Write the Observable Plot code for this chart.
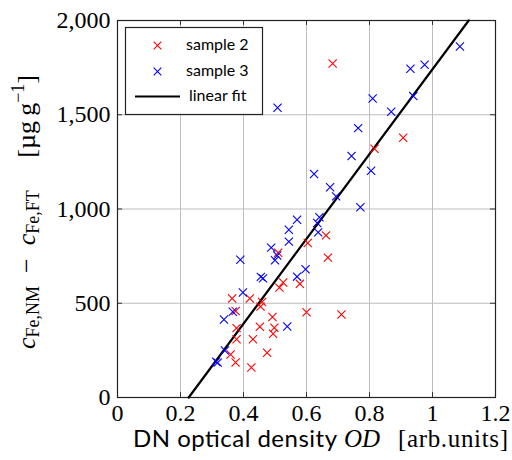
<!DOCTYPE html>
<html><head><meta charset="utf-8">
<script src="https://cdn.jsdelivr.net/npm/d3@7"></script>
<script src="https://cdn.jsdelivr.net/npm/@observablehq/plot@0.6"></script>
<style>body{margin:0;background:#fff} svg{display:block}</style>
</head><body><div id="chart"></div>
<script>
// sample 2 (red)
const sample2X = [0.683,0.907,0.816,0.662,0.604,0.668,0.510,0.526,0.579,0.514,0.364,0.420,0.459,0.454,0.375,0.600,0.711,0.492,0.452,0.498,0.494,0.378,0.378,0.430,0.359,0.475,0.375,0.425];
const sample2Y = [1772,1378,1320,860,820,742,768,610,603,583,525,525,507,482,459,452,440,427,375,370,338,368,309,309,228,237,186,159];
// sample 3 (blue)
const sample3X = [1.087,0.975,0.930,0.810,0.939,0.869,0.764,0.508,0.743,0.805,0.624,0.675,0.694,0.771,0.570,0.641,0.634,0.637,0.544,0.544,0.597,0.570,0.488,0.507,0.500,0.390,0.455,0.462,0.398,0.366,0.338,0.539,0.341,0.313,0.318];
const sample3Y = [1862,1765,1744,1586,1599,1516,1429,1537,1281,1203,1186,1115,1067,1009,943,956,926,876,890,827,680,641,795,753,728,731,640,632,557,455,414,377,249,190,185];
// linear fit end points
const fitX = [0.226, 1.115];
const fitY = [0, 2000];
// ticks
const xTicks = [0, 0.2, 0.4, 0.6, 0.8, 1.0, 1.2];
const xTickLabels = ["0", "0.2", "0.4", "0.6", "0.8", "1", "1.2"];
const yTicks = [0, 500, 1000, 1500, 2000];
const yTickLabels = ["0", "500", "1,000", "1,500", "2,000"];
const seriesNames = ["sample 2", "sample 3", "linear fit"];
const seriesColors = ["#ff0000", "#0000ff", "#000000"];

const s2 = sample2X.map((x, i) => ({x, y: sample2Y[i]}));
const s3 = sample3X.map((x, i) => ({x, y: sample3Y[i]}));
const fit = fitX.map((x, i) => ({x, y: fitY[i]}));

const chart = Plot.plot({
  width: 512, height: 460,
  marginLeft: 117, marginRight: 17, marginTop: 20, marginBottom: 63,
  style: {fontFamily: "Liberation Serif", fontSize: "24px", background: "white", color: "black", overflow: "visible"},
  x: {domain: [0, 1.2], ticks: xTicks, tickFormat: d => xTickLabels[xTicks.indexOf(d)], tickSize: 0, tickPadding: 6, label: null},
  y: {domain: [0, 2000], ticks: yTicks, tickFormat: d => yTickLabels[yTicks.indexOf(d)], tickSize: 0, tickPadding: 7, label: null},
  marks: [
    Plot.gridX(xTicks.slice(1, -1), {stroke: "#bdbdbd", strokeOpacity: 1, strokeWidth: 1}),
    Plot.gridY(yTicks.slice(1, -1), {stroke: "#bdbdbd", strokeOpacity: 1, strokeWidth: 1}),
    Plot.ruleX(xTicks, {y1: 0, y2: 26, stroke: "#333"}),
    Plot.ruleX(xTicks, {y1: 2000, y2: 1974, stroke: "#333"}),
    Plot.ruleY(yTicks, {x1: 0, x2: 0.016, stroke: "#333"}),
    Plot.ruleY(yTicks, {x1: 1.2, x2: 1.184, stroke: "#333"}),
    Plot.frame({stroke: "#222", strokeWidth: 1.2}),
    Plot.line(fit, {x: "x", y: "y", stroke: seriesColors[2], strokeWidth: 2.2}),
    Plot.dot(s2, {x: "x", y: "y", symbol: "times", r: 3.8, stroke: seriesColors[0], strokeWidth: 1.1}),
    Plot.dot(s3, {x: "x", y: "y", symbol: "times", r: 3.8, stroke: seriesColors[1], strokeWidth: 1.1})
  ]
});
document.getElementById("chart").appendChild(chart);

const svg = d3.select(chart);
// legend
const lg = svg.append("g").attr("text-anchor", "start");
lg.append("rect").attr("x", 125.5).attr("y", 27.5).attr("width", 137).attr("height", 87)
  .attr("fill", "white").attr("stroke", "#222").attr("stroke-width", 1.2);
const cross = (g, cx, cy, col) => {
  const h = 3.8;
  g.append("path").attr("d", `M${cx-h},${cy-h}L${cx+h},${cy+h}M${cx-h},${cy+h}L${cx+h},${cy-h}`)
    .attr("stroke", col).attr("stroke-width", 1.1).attr("fill", "none");
};
cross(lg, 157.5, 45.5, seriesColors[0]);
cross(lg, 157.5, 71.5, seriesColors[1]);
lg.append("line").attr("x1", 135).attr("x2", 180).attr("y1", 96.5).attr("y2", 96.5)
  .attr("stroke", "black").attr("stroke-width", 2.2);
const lt = [[186, 50, seriesNames[0]], [186, 76, seriesNames[1]], [189, 101, seriesNames[2]]];
lt.forEach(([x, y, t]) => lg.append("text").attr("x", x).attr("y", y).text(t)
  .attr("text-anchor", "start").attr("font-family", "Lato").attr("font-size", 16).attr("fill", "black"));

// x label
const xl = svg.append("text").attr("y", 447).attr("font-size", 24).attr("fill", "black").attr("text-anchor", "start");
xl.append("tspan").attr("x", 133).attr("font-family", "Lato").attr("textLength", 204).attr("lengthAdjust", "spacing").text("DN optical density");
xl.append("tspan").attr("x", 344).attr("font-family", "Liberation Serif").attr("font-style", "italic").attr("font-size", 25).text("OD");
xl.append("tspan").attr("x", 398).attr("font-family", "Liberation Serif").attr("font-size", 25).attr("textLength", 110).attr("lengthAdjust", "spacing").text("[arb.units]");

// y label
const yl = svg.append("text").attr("transform", "translate(35,212) rotate(-90)")
  .attr("text-anchor", "middle").attr("font-family", "Liberation Serif").attr("font-size", 26).attr("fill", "black")
  .style("white-space", "pre");
yl.append("tspan").attr("font-style", "italic").text("c");
yl.append("tspan").attr("font-size", 18).attr("dy", 4).text("Fe,NM");
yl.append("tspan").attr("dy", -4).text("  \u2212  ");
yl.append("tspan").attr("font-style", "italic").text("c");
yl.append("tspan").attr("font-size", 18).attr("dy", 4).text("Fe,FT");
yl.append("tspan").attr("dy", -4).text("     [\u00b5g\u2009g");
yl.append("tspan").attr("font-size", 18).attr("dy", -11).text("\u22121");
yl.append("tspan").attr("dy", 11).text("]");
</script>
</body></html>
